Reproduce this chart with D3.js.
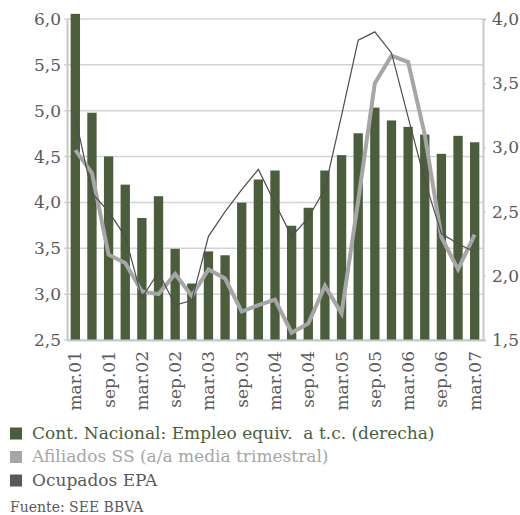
<!DOCTYPE html>
<html><head><meta charset="utf-8">
<script src="https://cdn.jsdelivr.net/npm/d3@7"></script>
<style>body{margin:0;background:#fff}svg{display:block}</style>
</head><body>
<svg id="c" width="520" height="515"></svg>
<script>
const categories = ["mar.01","jun.01","sep.01","dic.01","mar.02","jun.02","sep.02","dic.02","mar.03","jun.03","sep.03","dic.03","mar.04","jun.04","sep.04","dic.04","mar.05","jun.05","sep.05","dic.05","mar.06","jun.06","sep.06","dic.06","mar.07"];
// Cont. Nacional (right axis)
const empleoTC = [4.04,3.27,2.93,2.71,2.45,2.62,2.21,1.94,2.19,2.16,2.57,2.75,2.82,2.39,2.53,2.82,2.94,3.11,3.31,3.21,3.16,3.10,2.95,3.09,3.04];
// Afiliados SS (left axis)
const afiliados = [4.57,4.32,3.43,3.34,3.03,3.00,3.22,2.98,3.27,3.17,2.81,2.88,2.94,2.58,2.68,3.09,2.79,4.02,5.30,5.60,5.53,4.74,3.62,3.27,3.65];
// Ocupados EPA (left axis)
const ocupados = [4.93,4.10,3.90,3.63,2.96,3.24,2.88,2.93,3.63,3.90,4.14,4.36,3.99,3.63,3.83,4.15,4.95,5.77,5.86,5.63,4.93,4.24,3.66,3.55,3.46];
const leftTicks = [2.5,3.0,3.5,4.0,4.5,5.0,5.5,6.0];
const rightTicks = [1.5,2.0,2.5,3.0,3.5,4.0];
const xTickLabels = ["mar.01","sep.01","mar.02","sep.02","mar.03","sep.03","mar.04","sep.04","mar.05","sep.05","mar.06","sep.06","mar.07"];
const legendItems = ["Cont. Nacional: Empleo equiv.  a t.c. (derecha)","Afiliados SS (a/a media trimestral)","Ocupados EPA"];
const source = "Fuente: SEE BBVA";

const L = 67, R = 483, T = 19, B = 340;
const font = "'DejaVu Serif', serif";
const green = "#4a5e3c", lgray = "#a6a6a6", dgray = "#595959";
const svg = d3.select("#c");

const x = d3.scaleBand().domain(categories).range([L, R]).paddingInner(0.44).paddingOuter(0.22);
const yL = d3.scaleLinear().domain([2.5, 6.0]).range([B, T]);
const yR = d3.scaleLinear().domain([1.5, 4.0]).range([B, T]);
const fmt = d => d3.format(".1f")(d).replace(".", ",");

// gridlines
svg.append("g").selectAll("line").data(leftTicks).join("line")
  .attr("x1", L - 3).attr("x2", R).attr("y1", d => yL(d)).attr("y2", d => yL(d))
  .attr("stroke", "#d4d4d4").attr("stroke-width", 1.5);

// left axis
const gl = svg.append("g").attr("transform", `translate(${L},0)`)
  .call(d3.axisLeft(yL).tickValues(leftTicks).tickFormat(fmt).tickSize(0).tickPadding(6));
gl.select(".domain").attr("stroke", "#c8c8c8").attr("stroke-width", 2);
gl.selectAll("text").attr("font-family", font).attr("font-size", 17).attr("fill", dgray);

// right axis
const gr = svg.append("g").attr("transform", `translate(${R},0)`)
  .call(d3.axisRight(yR).tickValues(rightTicks).tickFormat(fmt).tickSize(3).tickPadding(6));
gr.select(".domain").attr("stroke", "#c8c8c8").attr("stroke-width", 2);
gr.selectAll("line").attr("stroke", "#c8c8c8");
gr.selectAll("text").attr("font-family", font).attr("font-size", 17).attr("fill", dgray);

// bars
svg.append("g").selectAll("rect").data(empleoTC).join("rect")
  .attr("x", (d, i) => x(categories[i])).attr("width", x.bandwidth())
  .attr("y", d => yR(d)).attr("height", d => yR(1.5) - yR(d))
  .attr("fill", green);

// bottom axis
const gb = svg.append("g").attr("transform", `translate(0,${B})`)
  .call(d3.axisBottom(x).tickValues(xTickLabels).tickSize(0).tickPadding(0));
gb.select(".domain").attr("stroke", "#c8c8c8").attr("stroke-width", 2);
gb.selectAll("text").attr("font-family", font).attr("font-size", 17).attr("fill", dgray)
  .attr("transform", "rotate(-90)").attr("text-anchor", "end")
  .attr("x", -11).attr("y", 0).attr("dy", "0.35em");

const cx = i => x(categories[i]) + x.bandwidth() / 2;
const lineL = d3.line().x((d, i) => cx(i)).y(d => yL(d));
svg.append("path").datum(afiliados).attr("d", lineL)
  .attr("fill", "none").attr("stroke", lgray).attr("stroke-width", 4).attr("stroke-linejoin", "miter");
svg.append("path").datum(ocupados).attr("d", lineL)
  .attr("fill", "none").attr("stroke", "#4d4d4d").attr("stroke-width", 1.2);

// legend
const lc = [green, lgray, dgray];
const lg = svg.append("g");
legendItems.forEach((t, i) => {
  const y = 433 + i * 23.5;
  lg.append("rect").attr("x", 10).attr("y", y - 5.5).attr("width", 12).attr("height", 12).attr("fill", lc[i]);
  lg.append("text").attr("x", 32).attr("y", y).attr("dy", "0.35em").style("white-space", "pre")
    .attr("font-family", font).attr("font-size", 17).attr("fill", lc[i]).text(t);
});
svg.append("text").attr("x", 10).attr("y", 507).attr("dy", "0.35em")
  .attr("font-family", font).attr("font-size", 14).attr("fill", dgray).text(source);
</script>
</body></html>
